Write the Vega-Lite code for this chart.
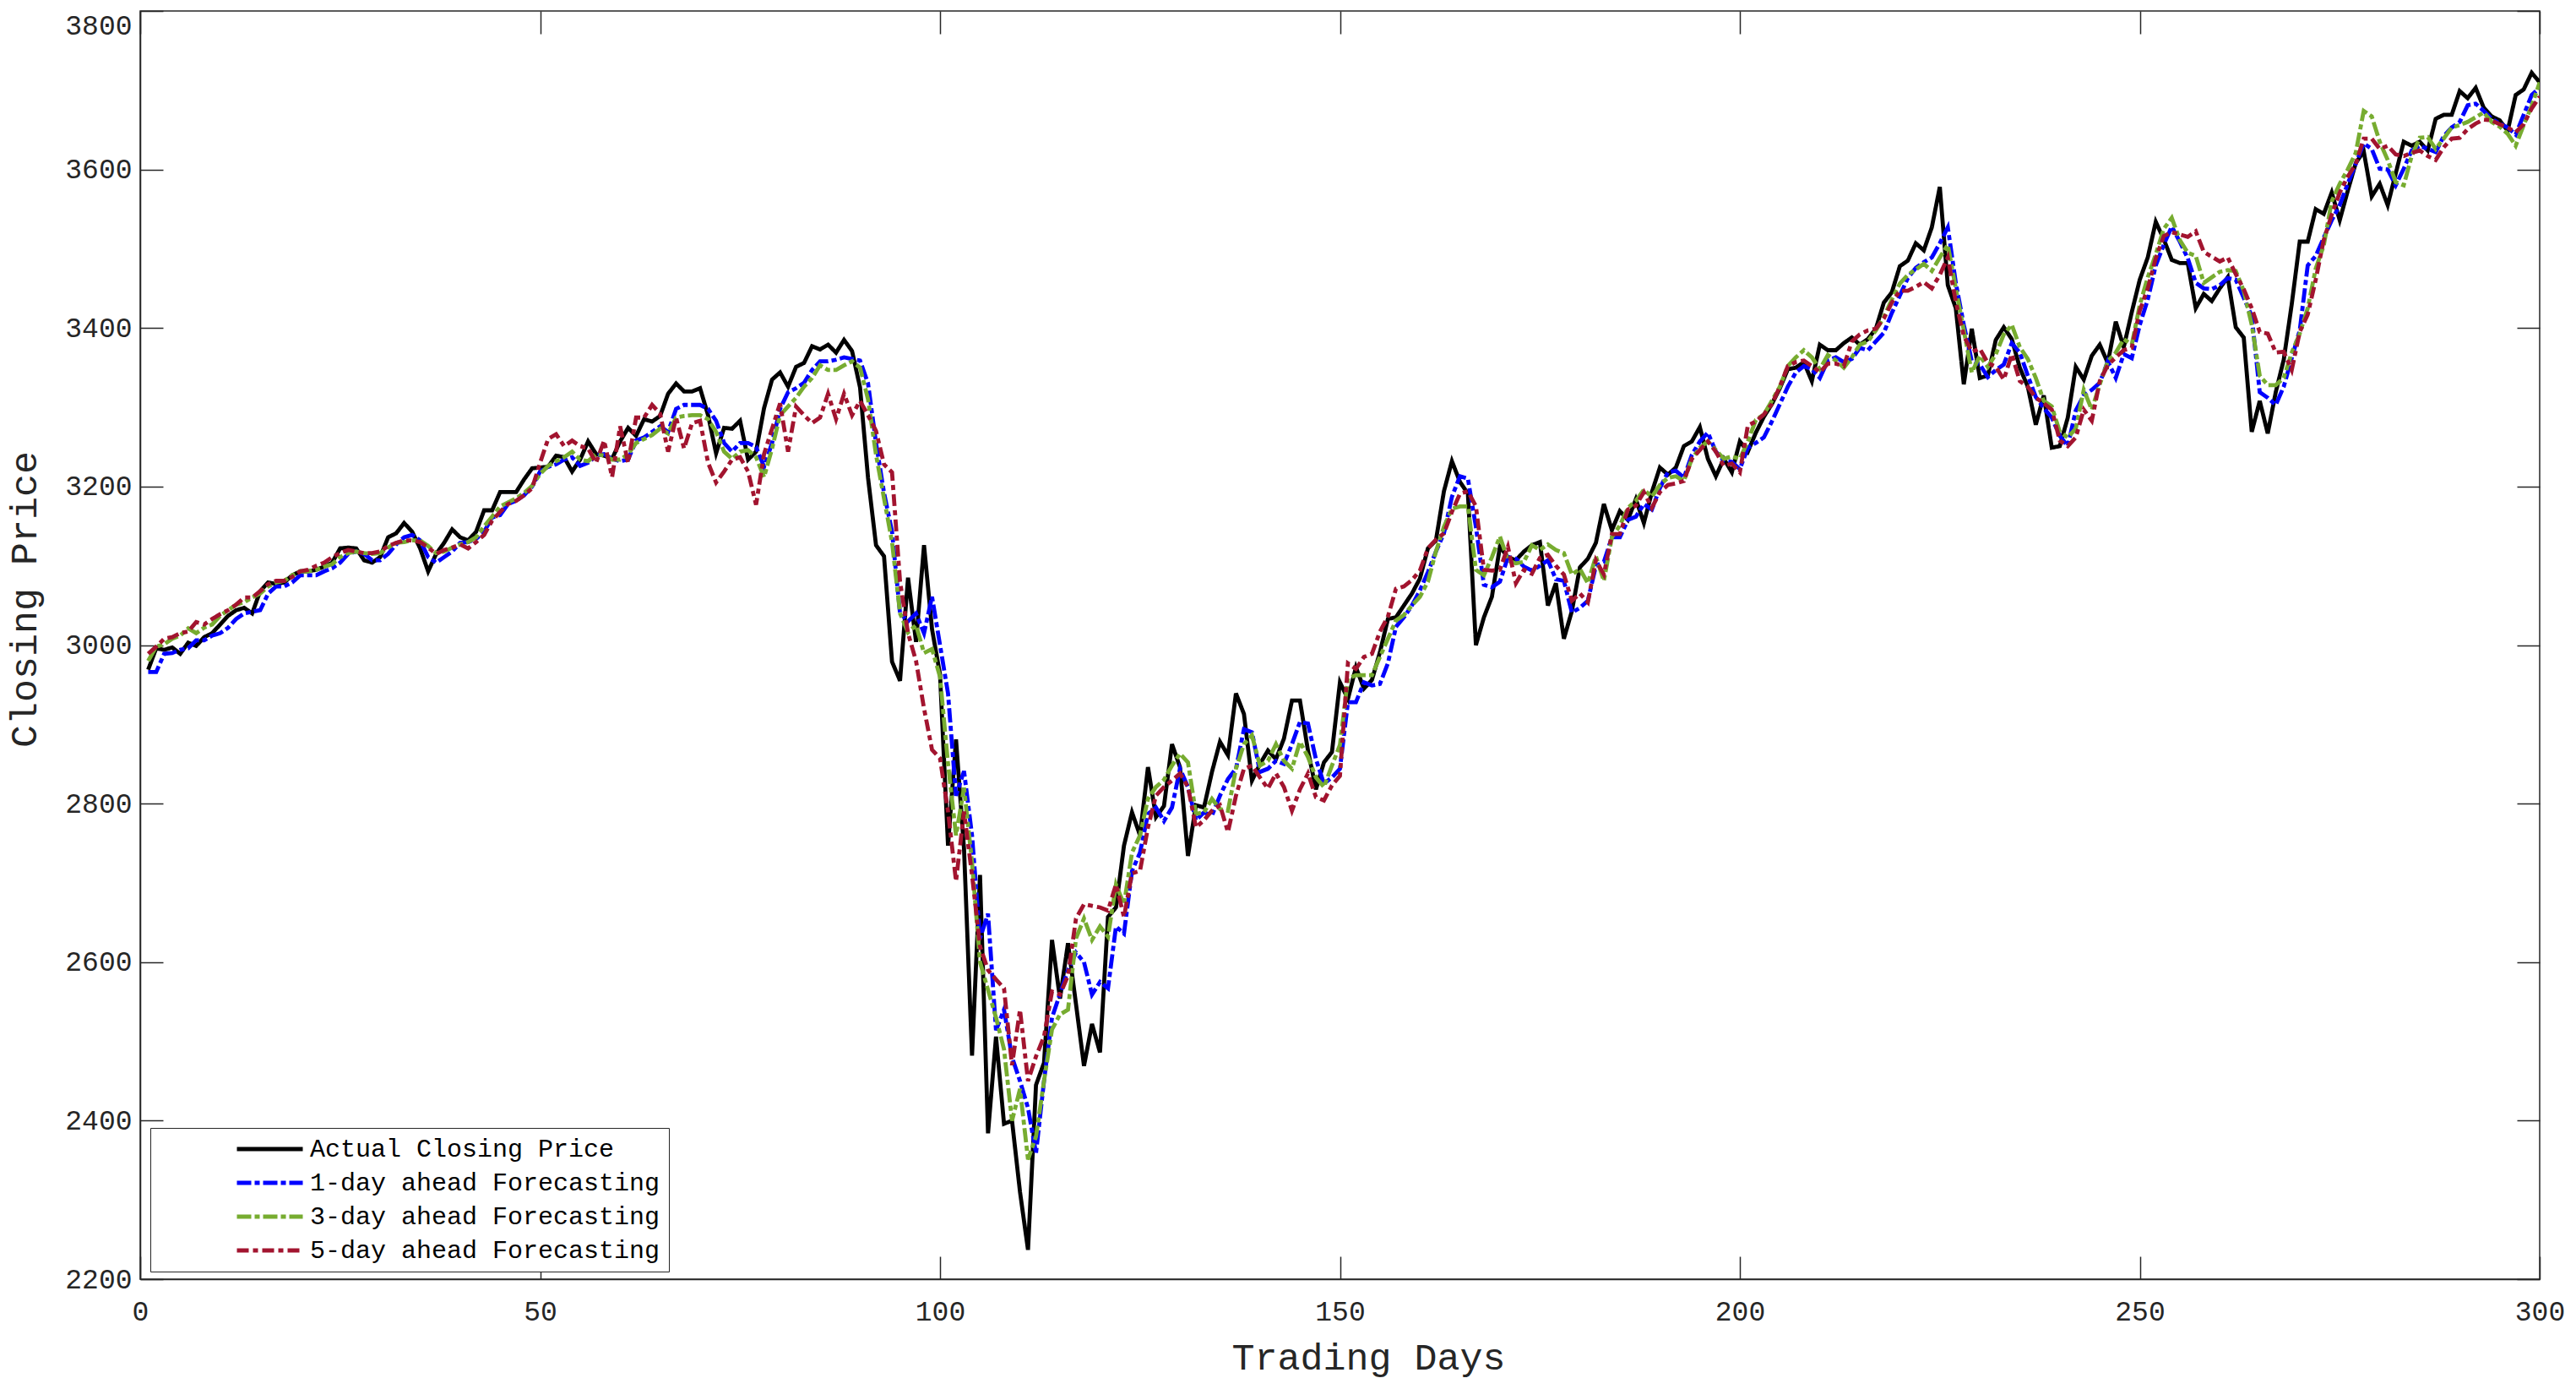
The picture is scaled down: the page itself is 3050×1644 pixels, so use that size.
{
  "$schema": "https://vega.github.io/schema/vega-lite/v6.json",
  "width": 2841,
  "height": 1501,
  "autosize": {"type": "none"},
  "padding": {"left": 166, "top": 13, "right": 43, "bottom": 130},
  "background": "white",
  "config": {
    "view": {"stroke": "#262626", "strokeWidth": 1.5},
    "font": "Liberation Mono",
    "axis": {"grid": false, "domainColor": "#262626", "tickColor": "#262626", "labelColor": "#262626", "titleColor": "#262626", "labelFont": "Liberation Mono", "titleFont": "Liberation Mono", "labelFontSize": 33, "titleFontSize": 45, "titleFontWeight": "normal", "tickWidth": 1.5, "domainWidth": 1.5, "format": "d"}
  },
  "data": {"values": [
{"day":1,"A":2969,"F1":2966,"F3":2980,"F5":2989},{"day":2,"A":2996,"F1":2966,"F3":2998,"F5":2998},{"day":3,"A":2994,"F1":2989,"F3":3001,"F5":3008},{"day":4,"A":2997,"F1":2990,"F3":3008,"F5":3010},{"day":5,"A":2989,"F1":2994,"F3":3012,"F5":3015},
{"day":6,"A":3003,"F1":2996,"F3":3021,"F5":3017},{"day":7,"A":2999,"F1":3006,"F3":3015,"F5":3029},{"day":8,"A":3010,"F1":3006,"F3":3022,"F5":3026},{"day":9,"A":3015,"F1":3012,"F3":3026,"F5":3033},{"day":10,"A":3026,"F1":3015,"F3":3037,"F5":3039},
{"day":11,"A":3037,"F1":3022,"F3":3044,"F5":3044},{"day":12,"A":3044,"F1":3033,"F3":3051,"F5":3051},{"day":13,"A":3047,"F1":3040,"F3":3054,"F5":3060},{"day":14,"A":3040,"F1":3042,"F3":3060,"F5":3060},{"day":15,"A":3068,"F1":3044,"F3":3065,"F5":3068},
{"day":16,"A":3079,"F1":3065,"F3":3074,"F5":3077},{"day":17,"A":3077,"F1":3074,"F3":3079,"F5":3081},{"day":18,"A":3079,"F1":3074,"F3":3081,"F5":3081},{"day":19,"A":3088,"F1":3079,"F3":3088,"F5":3086},{"day":20,"A":3093,"F1":3088,"F3":3093,"F5":3093},
{"day":21,"A":3093,"F1":3088,"F3":3093,"F5":3095},{"day":22,"A":3095,"F1":3088,"F3":3095,"F5":3100},{"day":23,"A":3099,"F1":3093,"F3":3099,"F5":3104},{"day":24,"A":3104,"F1":3097,"F3":3102,"F5":3111},{"day":25,"A":3122,"F1":3104,"F3":3111,"F5":3116},
{"day":26,"A":3123,"F1":3115,"F3":3116,"F5":3120},{"day":27,"A":3122,"F1":3118,"F3":3118,"F5":3118},{"day":28,"A":3107,"F1":3115,"F3":3116,"F5":3116},{"day":29,"A":3104,"F1":3107,"F3":3115,"F5":3116},{"day":30,"A":3111,"F1":3107,"F3":3116,"F5":3118},
{"day":31,"A":3136,"F1":3115,"F3":3123,"F5":3125},{"day":32,"A":3141,"F1":3127,"F3":3129,"F5":3129},{"day":33,"A":3154,"F1":3136,"F3":3130,"F5":3132},{"day":34,"A":3143,"F1":3139,"F3":3132,"F5":3132},{"day":35,"A":3122,"F1":3132,"F3":3132,"F5":3130},
{"day":36,"A":3093,"F1":3111,"F3":3125,"F5":3123},{"day":37,"A":3115,"F1":3104,"F3":3116,"F5":3115},{"day":38,"A":3129,"F1":3111,"F3":3118,"F5":3120},{"day":39,"A":3146,"F1":3118,"F3":3123,"F5":3123},{"day":40,"A":3136,"F1":3129,"F3":3127,"F5":3127},
{"day":41,"A":3132,"F1":3130,"F3":3130,"F5":3122},{"day":42,"A":3143,"F1":3134,"F3":3136,"F5":3130},{"day":43,"A":3170,"F1":3143,"F3":3150,"F5":3139},{"day":44,"A":3170,"F1":3161,"F3":3162,"F5":3157},{"day":45,"A":3193,"F1":3164,"F3":3175,"F5":3168},
{"day":46,"A":3193,"F1":3178,"F3":3180,"F5":3178},{"day":47,"A":3193,"F1":3182,"F3":3185,"F5":3182},{"day":48,"A":3209,"F1":3189,"F3":3192,"F5":3189},{"day":49,"A":3223,"F1":3200,"F3":3201,"F5":3198},{"day":50,"A":3224,"F1":3219,"F3":3216,"F5":3230},
{"day":51,"A":3225,"F1":3225,"F3":3226,"F5":3260},{"day":52,"A":3239,"F1":3228,"F3":3232,"F5":3266},{"day":53,"A":3237,"F1":3234,"F3":3237,"F5":3251},{"day":54,"A":3219,"F1":3237,"F3":3244,"F5":3258},{"day":55,"A":3234,"F1":3226,"F3":3234,"F5":3251},
{"day":56,"A":3257,"F1":3230,"F3":3232,"F5":3248},{"day":57,"A":3241,"F1":3239,"F3":3241,"F5":3230},{"day":58,"A":3239,"F1":3241,"F3":3239,"F5":3258},{"day":59,"A":3235,"F1":3235,"F3":3234,"F5":3212},{"day":60,"A":3257,"F1":3232,"F3":3234,"F5":3276},
{"day":61,"A":3274,"F1":3234,"F3":3241,"F5":3230},{"day":62,"A":3264,"F1":3258,"F3":3255,"F5":3287},{"day":63,"A":3285,"F1":3262,"F3":3260,"F5":3287},{"day":64,"A":3282,"F1":3269,"F3":3265,"F5":3303},{"day":65,"A":3289,"F1":3276,"F3":3273,"F5":3292},
{"day":66,"A":3317,"F1":3269,"F3":3267,"F5":3244},{"day":67,"A":3330,"F1":3298,"F3":3287,"F5":3287},{"day":68,"A":3320,"F1":3303,"F3":3289,"F5":3248},{"day":69,"A":3320,"F1":3303,"F3":3290,"F5":3280},{"day":70,"A":3324,"F1":3303,"F3":3290,"F5":3283},
{"day":71,"A":3290,"F1":3298,"F3":3285,"F5":3230},{"day":72,"A":3242,"F1":3283,"F3":3269,"F5":3205},{"day":73,"A":3274,"F1":3255,"F3":3244,"F5":3219},{"day":74,"A":3273,"F1":3244,"F3":3235,"F5":3234},{"day":75,"A":3283,"F1":3255,"F3":3244,"F5":3237},
{"day":76,"A":3234,"F1":3255,"F3":3246,"F5":3219},{"day":77,"A":3244,"F1":3250,"F3":3237,"F5":3177},{"day":78,"A":3299,"F1":3225,"F3":3212,"F5":3241},{"day":79,"A":3335,"F1":3255,"F3":3248,"F5":3273},{"day":80,"A":3344,"F1":3298,"F3":3290,"F5":3305},
{"day":81,"A":3326,"F1":3319,"F3":3301,"F5":3244},{"day":82,"A":3351,"F1":3324,"F3":3312,"F5":3301},{"day":83,"A":3356,"F1":3331,"F3":3326,"F5":3290},{"day":84,"A":3377,"F1":3347,"F3":3337,"F5":3280},{"day":85,"A":3373,"F1":3358,"F3":3353,"F5":3287},
{"day":86,"A":3379,"F1":3358,"F3":3347,"F5":3317},{"day":87,"A":3369,"F1":3360,"F3":3347,"F5":3285},{"day":88,"A":3385,"F1":3363,"F3":3353,"F5":3317},{"day":89,"A":3371,"F1":3361,"F3":3358,"F5":3290},{"day":90,"A":3325,"F1":3359,"F3":3350,"F5":3308},
{"day":91,"A":3211,"F1":3330,"F3":3310,"F5":3290},{"day":92,"A":3126,"F1":3255,"F3":3240,"F5":3270},{"day":93,"A":3112,"F1":3192,"F3":3185,"F5":3228},{"day":94,"A":2979,"F1":3143,"F3":3130,"F5":3218},{"day":95,"A":2955,"F1":3040,"F3":3040,"F5":3080},
{"day":96,"A":3085,"F1":3030,"F3":3016,"F5":3015},{"day":97,"A":3004,"F1":3040,"F3":3025,"F5":2980},{"day":98,"A":3126,"F1":3015,"F3":2990,"F5":2920},{"day":99,"A":3020,"F1":3061,"F3":2995,"F5":2868},{"day":100,"A":2963,"F1":3000,"F3":2960,"F5":2857},
{"day":101,"A":2747,"F1":2939,"F3":2850,"F5":2790},{"day":102,"A":2881,"F1":2810,"F3":2760,"F5":2702},{"day":103,"A":2743,"F1":2841,"F3":2820,"F5":2790},{"day":104,"A":2482,"F1":2760,"F3":2726,"F5":2710},{"day":105,"A":2710,"F1":2630,"F3":2600,"F5":2620},
{"day":106,"A":2384,"F1":2661,"F3":2565,"F5":2590},{"day":107,"A":2506,"F1":2514,"F3":2530,"F5":2578},{"day":108,"A":2396,"F1":2540,"F3":2490,"F5":2567},{"day":109,"A":2400,"F1":2480,"F3":2400,"F5":2470},{"day":110,"A":2310,"F1":2450,"F3":2440,"F5":2540},
{"day":111,"A":2237,"F1":2416,"F3":2351,"F5":2450},{"day":112,"A":2445,"F1":2359,"F3":2380,"F5":2481},{"day":113,"A":2473,"F1":2450,"F3":2450,"F5":2506},{"day":114,"A":2628,"F1":2530,"F3":2515,"F5":2563},{"day":115,"A":2554,"F1":2560,"F3":2534,"F5":2559},
{"day":116,"A":2624,"F1":2590,"F3":2540,"F5":2583},{"day":117,"A":2547,"F1":2612,"F3":2630,"F5":2655},{"day":118,"A":2469,"F1":2600,"F3":2655,"F5":2673},{"day":119,"A":2522,"F1":2559,"F3":2628,"F5":2671},{"day":120,"A":2486,"F1":2575,"F3":2645,"F5":2669},
{"day":121,"A":2657,"F1":2567,"F3":2632,"F5":2665},{"day":122,"A":2669,"F1":2645,"F3":2698,"F5":2698},{"day":123,"A":2747,"F1":2636,"F3":2673,"F5":2657},{"day":124,"A":2789,"F1":2715,"F3":2738,"F5":2712},{"day":125,"A":2760,"F1":2738,"F3":2760,"F5":2715},
{"day":126,"A":2846,"F1":2787,"F3":2806,"F5":2770},{"day":127,"A":2783,"F1":2795,"F3":2821,"F5":2810},{"day":128,"A":2797,"F1":2778,"F3":2830,"F5":2821},{"day":129,"A":2875,"F1":2795,"F3":2848,"F5":2829},{"day":130,"A":2846,"F1":2844,"F3":2863,"F5":2838},
{"day":131,"A":2734,"F1":2821,"F3":2852,"F5":2821},{"day":132,"A":2798,"F1":2779,"F3":2787,"F5":2770},{"day":133,"A":2795,"F1":2789,"F3":2789,"F5":2779},{"day":134,"A":2840,"F1":2785,"F3":2806,"F5":2791},{"day":135,"A":2878,"F1":2810,"F3":2793,"F5":2798},
{"day":136,"A":2861,"F1":2831,"F3":2791,"F5":2764},{"day":137,"A":2939,"F1":2844,"F3":2844,"F5":2810},{"day":138,"A":2913,"F1":2894,"F3":2875,"F5":2844},{"day":139,"A":2829,"F1":2890,"F3":2886,"F5":2848},{"day":140,"A":2850,"F1":2840,"F3":2848,"F5":2833},
{"day":141,"A":2867,"F1":2844,"F3":2854,"F5":2819},{"day":142,"A":2856,"F1":2854,"F3":2875,"F5":2838},{"day":143,"A":2882,"F1":2850,"F3":2854,"F5":2821},{"day":144,"A":2930,"F1":2875,"F3":2844,"F5":2791},{"day":145,"A":2930,"F1":2903,"F3":2878,"F5":2818},
{"day":146,"A":2867,"F1":2901,"F3":2859,"F5":2838},{"day":147,"A":2818,"F1":2856,"F3":2833,"F5":2808},{"day":148,"A":2852,"F1":2825,"F3":2821,"F5":2804},{"day":149,"A":2865,"F1":2833,"F3":2848,"F5":2823},{"day":150,"A":2953,"F1":2844,"F3":2874,"F5":2835},
{"day":151,"A":2932,"F1":2928,"F3":2958,"F5":2977},{"day":152,"A":2972,"F1":2928,"F3":2962,"F5":2970},{"day":153,"A":2945,"F1":2953,"F3":2962,"F5":2985},{"day":154,"A":2956,"F1":2949,"F3":2962,"F5":2989},{"day":155,"A":2991,"F1":2951,"F3":2985,"F5":3017},
{"day":156,"A":3033,"F1":2977,"F3":3008,"F5":3036},{"day":157,"A":3035,"F1":3023,"F3":3031,"F5":3071},{"day":158,"A":3050,"F1":3035,"F3":3038,"F5":3074},{"day":159,"A":3065,"F1":3050,"F3":3050,"F5":3082},{"day":160,"A":3084,"F1":3069,"F3":3061,"F5":3094},
{"day":161,"A":3122,"F1":3092,"F3":3080,"F5":3122},{"day":162,"A":3132,"F1":3118,"F3":3118,"F5":3133},{"day":163,"A":3194,"F1":3141,"F3":3149,"F5":3141},{"day":164,"A":3232,"F1":3187,"F3":3172,"F5":3168},{"day":165,"A":3206,"F1":3213,"F3":3175,"F5":3191},
{"day":166,"A":3191,"F1":3210,"F3":3175,"F5":3194},{"day":167,"A":3000,"F1":3149,"F3":3095,"F5":3175},{"day":168,"A":3035,"F1":3076,"F3":3088,"F5":3095},{"day":169,"A":3061,"F1":3073,"F3":3111,"F5":3094},{"day":170,"A":3124,"F1":3080,"F3":3137,"F5":3095},
{"day":171,"A":3111,"F1":3111,"F3":3107,"F5":3124},{"day":172,"A":3107,"F1":3109,"F3":3103,"F5":3078},{"day":173,"A":3118,"F1":3099,"F3":3105,"F5":3095},{"day":174,"A":3126,"F1":3094,"F3":3126,"F5":3090},{"day":175,"A":3130,"F1":3100,"F3":3120,"F5":3110},
{"day":176,"A":3050,"F1":3107,"F3":3127,"F5":3114},{"day":177,"A":3078,"F1":3083,"F3":3120,"F5":3100},{"day":178,"A":3008,"F1":3081,"F3":3116,"F5":3089},{"day":179,"A":3043,"F1":3041,"F3":3089,"F5":3056},{"day":180,"A":3098,"F1":3047,"F3":3096,"F5":3065},
{"day":181,"A":3109,"F1":3056,"F3":3078,"F5":3054},{"day":182,"A":3129,"F1":3100,"F3":3112,"F5":3107},{"day":183,"A":3178,"F1":3105,"F3":3081,"F5":3089},{"day":184,"A":3145,"F1":3136,"F3":3136,"F5":3140},{"day":185,"A":3169,"F1":3136,"F3":3151,"F5":3140},
{"day":186,"A":3158,"F1":3158,"F3":3173,"F5":3171},{"day":187,"A":3184,"F1":3162,"F3":3182,"F5":3176},{"day":188,"A":3154,"F1":3178,"F3":3196,"F5":3193},{"day":189,"A":3193,"F1":3171,"F3":3187,"F5":3173},{"day":190,"A":3224,"F1":3198,"F3":3202,"F5":3193},
{"day":191,"A":3215,"F1":3218,"F3":3211,"F5":3202},{"day":192,"A":3224,"F1":3220,"F3":3213,"F5":3204},{"day":193,"A":3251,"F1":3211,"F3":3207,"F5":3207},{"day":194,"A":3257,"F1":3240,"F3":3235,"F5":3235},{"day":195,"A":3275,"F1":3257,"F3":3249,"F5":3246},
{"day":196,"A":3235,"F1":3268,"F3":3257,"F5":3257},{"day":197,"A":3213,"F1":3244,"F3":3246,"F5":3244},{"day":198,"A":3235,"F1":3233,"F3":3235,"F5":3226},{"day":199,"A":3218,"F1":3231,"F3":3238,"F5":3229},{"day":200,"A":3257,"F1":3222,"F3":3235,"F5":3218},
{"day":201,"A":3244,"F1":3249,"F3":3257,"F5":3277},{"day":202,"A":3268,"F1":3255,"F3":3284,"F5":3282},{"day":203,"A":3288,"F1":3262,"F3":3291,"F5":3291},{"day":204,"A":3304,"F1":3282,"F3":3308,"F5":3304},{"day":205,"A":3324,"F1":3304,"F3":3326,"F5":3326},
{"day":206,"A":3348,"F1":3326,"F3":3352,"F5":3352},{"day":207,"A":3350,"F1":3344,"F3":3363,"F5":3357},{"day":208,"A":3357,"F1":3352,"F3":3372,"F5":3359},{"day":209,"A":3333,"F1":3348,"F3":3363,"F5":3352},{"day":210,"A":3379,"F1":3337,"F3":3348,"F5":3344},
{"day":211,"A":3372,"F1":3359,"F3":3366,"F5":3355},{"day":212,"A":3372,"F1":3363,"F3":3359,"F5":3355},{"day":213,"A":3381,"F1":3357,"F3":3350,"F5":3352},{"day":214,"A":3388,"F1":3361,"F3":3363,"F5":3383},{"day":215,"A":3379,"F1":3375,"F3":3379,"F5":3392},
{"day":216,"A":3386,"F1":3372,"F3":3383,"F5":3397},{"day":217,"A":3399,"F1":3383,"F3":3397,"F5":3399},{"day":218,"A":3432,"F1":3394,"F3":3414,"F5":3412},{"day":219,"A":3445,"F1":3419,"F3":3436,"F5":3432},{"day":220,"A":3478,"F1":3441,"F3":3456,"F5":3447},
{"day":221,"A":3485,"F1":3463,"F3":3467,"F5":3447},{"day":222,"A":3507,"F1":3476,"F3":3474,"F5":3452},{"day":223,"A":3498,"F1":3483,"F3":3481,"F5":3458},{"day":224,"A":3527,"F1":3489,"F3":3472,"F5":3450},{"day":225,"A":3578,"F1":3507,"F3":3489,"F5":3467},
{"day":226,"A":3454,"F1":3527,"F3":3505,"F5":3489},{"day":227,"A":3425,"F1":3457,"F3":3450,"F5":3433},{"day":228,"A":3329,"F1":3404,"F3":3397,"F5":3390},{"day":229,"A":3399,"F1":3358,"F3":3344,"F5":3370},{"day":230,"A":3337,"F1":3354,"F3":3365,"F5":3374},
{"day":231,"A":3340,"F1":3338,"F3":3351,"F5":3356},{"day":232,"A":3385,"F1":3347,"F3":3367,"F5":3351},{"day":233,"A":3401,"F1":3354,"F3":3392,"F5":3335},{"day":234,"A":3386,"F1":3381,"F3":3404,"F5":3367},{"day":235,"A":3350,"F1":3369,"F3":3376,"F5":3333},
{"day":236,"A":3326,"F1":3340,"F3":3361,"F5":3326},{"day":237,"A":3278,"F1":3313,"F3":3337,"F5":3312},{"day":238,"A":3315,"F1":3299,"F3":3308,"F5":3305},{"day":239,"A":3249,"F1":3287,"F3":3301,"F5":3297},{"day":240,"A":3251,"F1":3264,"F3":3269,"F5":3258},
{"day":241,"A":3287,"F1":3251,"F3":3262,"F5":3251},{"day":242,"A":3351,"F1":3296,"F3":3273,"F5":3262},{"day":243,"A":3335,"F1":3315,"F3":3322,"F5":3297},{"day":244,"A":3365,"F1":3322,"F3":3297,"F5":3283},{"day":245,"A":3379,"F1":3331,"F3":3329,"F5":3333},
{"day":246,"A":3356,"F1":3358,"F3":3358,"F5":3353},{"day":247,"A":3408,"F1":3337,"F3":3369,"F5":3363},{"day":248,"A":3376,"F1":3367,"F3":3386,"F5":3372},{"day":249,"A":3420,"F1":3362,"F3":3379,"F5":3375},{"day":250,"A":3461,"F1":3404,"F3":3429,"F5":3422},
{"day":251,"A":3489,"F1":3436,"F3":3464,"F5":3450},{"day":252,"A":3534,"F1":3479,"F3":3493,"F5":3488},{"day":253,"A":3512,"F1":3505,"F3":3525,"F5":3516},{"day":254,"A":3486,"F1":3528,"F3":3539,"F5":3521},{"day":255,"A":3482,"F1":3509,"F3":3511,"F5":3518},
{"day":256,"A":3482,"F1":3488,"F3":3495,"F5":3515},{"day":257,"A":3425,"F1":3457,"F3":3491,"F5":3522},{"day":258,"A":3443,"F1":3450,"F3":3457,"F5":3496},{"day":259,"A":3434,"F1":3449,"F3":3464,"F5":3490},{"day":260,"A":3450,"F1":3454,"F3":3471,"F5":3484},
{"day":261,"A":3464,"F1":3463,"F3":3473,"F5":3489},{"day":262,"A":3401,"F1":3461,"F3":3472,"F5":3468},{"day":263,"A":3388,"F1":3438,"F3":3447,"F5":3449},{"day":264,"A":3269,"F1":3415,"F3":3404,"F5":3425},{"day":265,"A":3308,"F1":3319,"F3":3340,"F5":3395},
{"day":266,"A":3267,"F1":3312,"F3":3328,"F5":3393},{"day":267,"A":3319,"F1":3303,"F3":3328,"F5":3369},{"day":268,"A":3360,"F1":3326,"F3":3337,"F5":3370},{"day":269,"A":3430,"F1":3362,"F3":3369,"F5":3347},{"day":270,"A":3509,"F1":3397,"F3":3393,"F5":3395},
{"day":271,"A":3509,"F1":3479,"F3":3425,"F5":3417},{"day":272,"A":3550,"F1":3491,"F3":3475,"F5":3461},{"day":273,"A":3544,"F1":3514,"F3":3504,"F5":3511},{"day":274,"A":3571,"F1":3536,"F3":3560,"F5":3543},{"day":275,"A":3536,"F1":3555,"F3":3582,"F5":3571},
{"day":276,"A":3573,"F1":3582,"F3":3600,"F5":3591},{"day":277,"A":3608,"F1":3607,"F3":3621,"F5":3607},{"day":278,"A":3623,"F1":3633,"F3":3674,"F5":3639},{"day":279,"A":3566,"F1":3626,"F3":3667,"F5":3639},{"day":280,"A":3582,"F1":3601,"F3":3635,"F5":3626},
{"day":281,"A":3555,"F1":3600,"F3":3612,"F5":3630},{"day":282,"A":3595,"F1":3580,"F3":3584,"F5":3619},{"day":283,"A":3635,"F1":3601,"F3":3580,"F5":3617},{"day":284,"A":3630,"F1":3624,"F3":3617,"F5":3621},{"day":285,"A":3635,"F1":3630,"F3":3640,"F5":3624},
{"day":286,"A":3624,"F1":3626,"F3":3641,"F5":3617},{"day":287,"A":3664,"F1":3622,"F3":3626,"F5":3612},{"day":288,"A":3669,"F1":3642,"F3":3639,"F5":3628},{"day":289,"A":3669,"F1":3653,"F3":3653,"F5":3639},{"day":290,"A":3699,"F1":3660,"F3":3656,"F5":3640},
{"day":291,"A":3690,"F1":3681,"F3":3660,"F5":3651},{"day":292,"A":3703,"F1":3683,"F3":3666,"F5":3658},{"day":293,"A":3678,"F1":3674,"F3":3672,"F5":3663},{"day":294,"A":3667,"F1":3664,"F3":3660,"F5":3662},{"day":295,"A":3662,"F1":3658,"F3":3654,"F5":3657},
{"day":296,"A":3649,"F1":3653,"F3":3645,"F5":3653},{"day":297,"A":3694,"F1":3644,"F3":3630,"F5":3647},{"day":298,"A":3701,"F1":3669,"F3":3656,"F5":3657},{"day":299,"A":3722,"F1":3694,"F3":3680,"F5":3677},{"day":300,"A":3710,"F1":3703,"F3":3710,"F5":3692}
  ]},
  "transform": [{"fold": ["A", "F1", "F3", "F5"], "as": ["series", "price"]}],
  "layer": [
    {
      "mark": {"type": "line", "clip": true, "strokeWidth": 4.8},
      "encoding": {
        "x": {"field": "day", "type": "quantitative", "scale": {"domain": [0, 300], "nice": false, "zero": false},
              "axis": {"orient": "bottom", "values": [0, 50, 100, 150, 200, 250, 300], "tickSize": -27, "labelPadding": 49, "title": "Trading Days", "titleAnchor": "start", "titleAlign": "center", "titleX": 1454, "titleY": 106, "titleBaseline": "alphabetic", "labelFlush": false}},
        "y": {"field": "price", "type": "quantitative", "scale": {"domain": [2200, 3800], "nice": false, "zero": false},
              "axis": {"orient": "left", "values": [2200, 2400, 2600, 2800, 3000, 3200, 3400, 3600, 3800], "tickSize": -27, "labelPadding": 37,
                       "labelOffset": {"condition": {"test": "datum.value == 3800", "value": 17}, "value": 0},
                       "title": "Closing Price", "titleAngle": 270, "titleAlign": "center", "titleBaseline": "alphabetic", "titleX": -124, "titleY": 696}},
        "color": {"field": "series", "type": "nominal",
                  "scale": {"domain": ["A", "F1", "F3", "F5"], "range": ["#000000", "#0000FF", "#77AC30", "#A2142F"]},
                  "legend": {"orient": "none", "legendX": 12, "legendY": 1322, "title": null, "direction": "vertical",
                             "labelExpr": "datum.value == 'A' ? 'Actual Closing Price' : datum.value == 'F1' ? '1-day ahead Forecasting' : datum.value == 'F3' ? '3-day ahead Forecasting' : '5-day ahead Forecasting'",
                             "labelFont": "Liberation Mono", "labelFontSize": 30, "labelColor": "#000000", "labelOffset": 6,
                             "symbolType": "stroke", "symbolSize": 6084, "symbolStrokeWidth": 5, "symbolOffset": 90,
                             "clipHeight": 30, "rowPadding": 10, "padding": 10,
                             "strokeColor": "#262626", "fillColor": "#FFFFFF", "labelLimit": 1000}},
        "strokeDash": {"field": "series", "type": "nominal",
                       "scale": {"domain": ["A", "F1", "F3", "F5"], "range": [[1, 0], [17, 4, 6, 4], [17, 4, 6, 4], [14, 5, 6, 5]]},
                       "legend": {"orient": "none", "legendX": 12, "legendY": 1322, "title": null,
                             "labelExpr": "datum.value == 'A' ? 'Actual Closing Price' : datum.value == 'F1' ? '1-day ahead Forecasting' : datum.value == 'F3' ? '3-day ahead Forecasting' : '5-day ahead Forecasting'",
                             "labelFont": "Liberation Mono", "labelFontSize": 30, "labelColor": "#000000", "labelOffset": 6,
                             "symbolType": "stroke", "symbolSize": 6084, "symbolStrokeWidth": 5, "symbolOffset": 90,
                             "clipHeight": 30, "rowPadding": 10, "padding": 10,
                             "strokeColor": "#262626", "fillColor": "#FFFFFF", "labelLimit": 1000}}
      }
    },
    {
      "mark": {"type": "line", "opacity": 0},
      "encoding": {
        "x": {"field": "day", "type": "quantitative",
              "axis": {"orient": "top", "values": [0, 50, 100, 150, 200, 250, 300], "tickSize": -27, "labels": false, "title": null, "domain": false}},
        "y": {"field": "price", "type": "quantitative",
              "axis": {"orient": "right", "values": [2200, 2400, 2600, 2800, 3000, 3200, 3400, 3600, 3800], "tickSize": -27, "labels": false, "title": null, "domain": false}}
      }
    }
  ],
  "resolve": {"axis": {"x": "independent", "y": "independent"}}
}
